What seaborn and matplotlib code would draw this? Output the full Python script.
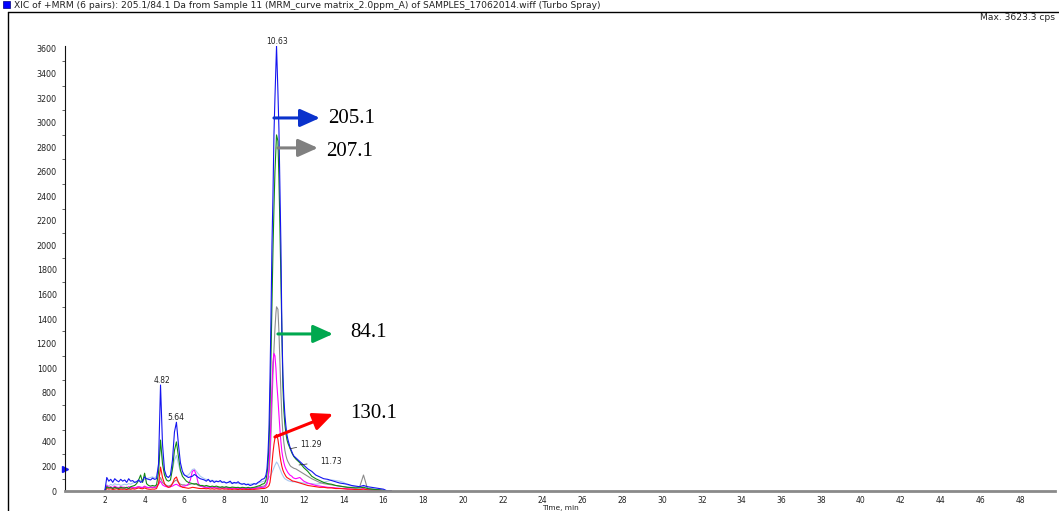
import matplotlib
matplotlib.use("Agg")
import matplotlib.pyplot as plt
import seaborn as sns
import pandas as pd
from matplotlib.lines import Line2D
from matplotlib.patches import Rectangle
from matplotlib.ticker import MultipleLocator

sns.set_theme(style="white")
plt.rcParams['font.family'] = ['DejaVu Sans']

# ---------------- data ----------------
time_min = [
    2.0, 2.1, 2.2, 2.3, 2.4, 2.5, 2.6, 2.7, 2.8, 2.9,
    3.0, 3.1, 3.2, 3.3, 3.4, 3.5, 3.6, 3.7, 3.8, 3.9,
    4.0, 4.1, 4.2, 4.3, 4.4, 4.5, 4.6, 4.7, 4.8, 4.9,
    5.0, 5.1, 5.2, 5.3, 5.4, 5.5, 5.6, 5.7, 5.8, 5.9,
    6.0, 6.1, 6.2, 6.3, 6.4, 6.5, 6.6, 6.7, 6.8, 6.9,
    7.0, 7.1, 7.2, 7.3, 7.4, 7.5, 7.6, 7.7, 7.8, 7.9,
    8.0, 8.1, 8.2, 8.3, 8.4, 8.5, 8.6, 8.7, 8.8, 8.9,
    9.0, 9.1, 9.2, 9.3, 9.4, 9.5, 9.6, 9.7, 9.8, 9.9,
    10.0, 10.05, 10.1, 10.15, 10.2, 10.25, 10.3, 10.35, 10.4, 10.45,
    10.5, 10.55, 10.6, 10.63, 10.7, 10.75, 10.8, 10.85, 10.9, 10.95,
    11.0, 11.05, 11.1, 11.15, 11.2, 11.25, 11.3, 11.35, 11.4, 11.45, 11.5,
    11.6, 11.8, 12.0, 12.2, 12.4, 12.6, 12.8, 13.0, 13.2, 13.4,
    13.6, 13.8, 14.0, 14.2, 14.4, 14.6, 14.8, 15.0, 15.2, 15.4,
    15.6, 15.8, 16.0, 16.2, 16.4,
]

blue_cps = [
    0, 110, 80, 95, 70, 100, 85, 75, 95, 80,
    90, 70, 100, 80, 85, 70, 75, 90, 70, 80,
    115, 100, 95, 90, 105, 95, 100, 220, 863, 380,
    170, 120, 110, 130, 250, 480, 560, 380, 230, 160,
    130, 120, 110, 115, 120, 135, 125, 110, 100, 95,
    90, 80, 95, 75, 85, 70, 80, 75, 85, 70,
    75, 65, 70, 80, 60, 70, 65, 75, 60, 55,
    60, 50, 55, 45, 50, 60, 55, 70, 80, 95,
    100, 110, 130, 180, 300, 500, 900, 1400, 2000, 2400,
    2900, 3200, 3450, 3623, 3250, 2950, 2500, 2000, 1300, 950,
    750, 620, 530, 460, 420, 390, 360, 340, 320, 300, 285,
    270, 240, 210, 180, 160, 130, 115, 100, 95, 85,
    75, 65, 60, 55, 45, 40, 35, 45, 35, 30,
    25, 20, 15, 0, 0,
]

green_cps = [
    0, 35, 25, 30, 20, 30, 25, 20, 30, 25,
    25, 30, 20, 35, 40, 45, 60, 90, 130, 70,
    145, 60, 45, 40, 45, 40, 50, 150, 415, 220,
    130, 90, 80, 90, 180, 330, 400, 280, 170, 120,
    100, 80, 70, 65, 60, 55, 60, 50, 45, 45,
    40, 45, 40, 35, 40, 35, 40, 35, 30, 35,
    30, 35, 30, 28, 32, 30, 28, 30, 25, 30,
    28, 25, 30, 25, 28, 30, 35, 40, 45, 55,
    60, 70, 90, 140, 220, 380, 650, 1100, 1550, 1950,
    2300, 2600, 2800, 2900, 2850, 2550, 2150, 1700, 1200, 850,
    650, 540, 470, 420, 390, 370, 350, 330, 310, 295, 280,
    260, 230, 190, 160, 120, 100, 85, 70, 60, 55,
    45, 40, 35, 30, 28, 25, 25, 30, 20, 15,
    12, 10, 5, 0, 0,
]

red_cps = [
    0, 20, 15, 18, 12, 15, 18, 12, 15, 14,
    15, 12, 16, 14, 18, 15, 20, 25, 20, 18,
    25, 18, 15, 14, 16, 15, 20, 60, 195, 110,
    60, 40, 30, 35, 60, 100, 114, 70, 40, 30,
    28, 25, 22, 25, 30, 28, 25, 22, 20, 20,
    20, 18, 20, 16, 18, 15, 18, 16, 15, 18,
    15, 16, 14, 15, 13, 15, 14, 12, 15, 13,
    14, 12, 13, 12, 14, 13, 15, 16, 18, 20,
    20, 22, 25, 30, 35, 45, 70, 130, 220, 310,
    380, 430, 455, 460, 420, 360, 290, 240, 200, 170,
    150, 135, 120, 110, 105, 100, 95, 90, 85, 80, 80,
    75, 65, 55, 45, 40, 35, 30, 30, 25, 25,
    20, 20, 18, 15, 15, 12, 12, 15, 10, 8,
    6, 5, 3, 0, 0,
]

magenta_cps = [
    0, 45, 30, 35, 25, 40, 30, 28, 35, 30,
    30, 25, 35, 28, 30, 25, 30, 35, 30, 28,
    40, 30, 28, 30, 32, 28, 35, 55, 80, 50,
    40, 35, 30, 35, 40, 50, 55, 45, 35, 40,
    40, 45, 55, 90, 160, 170, 130, 60, 40, 35,
    30, 28, 25, 30, 25, 28, 25, 22, 25, 22,
    22, 25, 20, 22, 20, 24, 20, 22, 18, 20,
    20, 18, 22, 20, 18, 20, 22, 25, 28, 30,
    30, 35, 45, 60, 100, 180, 350, 600, 850, 1050,
    1120, 1100, 1000, 900, 750, 620, 500, 400, 320, 270,
    230, 200, 180, 165, 150, 140, 130, 125, 120, 110, 105,
    100, 110, 80, 65, 55, 45, 40, 35, 30, 28,
    25, 22, 20, 18, 15, 15, 12, 20, 10, 8,
    6, 5, 3, 0, 0,
]

gray_cps = [
    0, 30, 25, 28, 20, 25, 22, 25, 20, 24,
    22, 25, 20, 24, 22, 25, 30, 35, 30, 28,
    35, 30, 28, 30, 28, 30, 35, 60, 110, 70,
    55, 45, 40, 45, 60, 80, 90, 70, 55, 50,
    50, 45, 50, 55, 60, 60, 55, 45, 40, 38,
    35, 32, 35, 30, 32, 30, 32, 28, 30, 28,
    28, 30, 26, 28, 25, 27, 25, 26, 24, 25,
    24, 22, 25, 22, 24, 25, 28, 30, 35, 38,
    40, 45, 55, 70, 100, 160, 280, 450, 700, 950,
    1150, 1320, 1450, 1500, 1480, 1300, 1050, 800, 600, 470,
    390, 330, 290, 260, 240, 225, 210, 200, 195, 190, 185,
    180, 160, 140, 120, 100, 85, 70, 60, 55, 50,
    45, 40, 35, 30, 28, 25, 30, 130, 20, 15,
    10, 8, 5, 0, 0,
]

lightblue_cps = [
    0, 50, 40, 55, 45, 60, 50, 55, 45, 50,
    55, 50, 60, 55, 65, 70, 80, 75, 85, 90,
    95, 100, 105, 110, 115, 105, 120, 200, 380, 260,
    150, 120, 110, 130, 180, 250, 290, 220, 160, 140,
    130, 125, 130, 150, 175, 180, 160, 140, 120, 110,
    100, 95, 90, 85, 88, 80, 82, 78, 75, 72,
    70, 68, 72, 65, 68, 62, 65, 60, 62, 58,
    60, 55, 58, 55, 60, 58, 62, 65, 70, 75,
    80, 82, 85, 90, 100, 110, 120, 135, 150, 170,
    190, 210, 225, 236, 220, 200, 180, 160, 140, 125,
    110, 100, 95, 90, 85, 82, 80, 78, 76, 75, 75,
    75, 70, 65, 60, 60, 55, 60, 70, 80, 90,
    85, 80, 70, 50, 40, 35, 30, 35, 25, 20,
    15, 10, 5, 0, 0,
]

trace_names = ["light blue", "gray", "magenta", "red", "green", "blue"]
trace_values = [lightblue_cps, gray_cps, magenta_cps, red_cps, green_cps, blue_cps]
trace_colors = ["#a8c8f0", "#8c8c8c", "#ff00ff", "#ff1010", "#138a13", "#1414f0"]

peak_labels = ["4.82", "5.64", "10.63", "11.29", "11.73"]
ion_labels = ["205.1", "207.1", "84.1", "130.1"]
y_ticks = list(range(0, 3601, 200))
x_ticks = list(range(2, 49, 2))

# ---------------- figure ----------------
W, H = 1059, 511
df = pd.concat(
    [pd.DataFrame({"time": time_min, "cps": v, "trace": n})
     for n, v in zip(trace_names, trace_values)],
    ignore_index=True,
)

fig = plt.figure(figsize=(W / 100, H / 100), dpi=100)
ax = fig.add_axes([65 / W, 20 / H, 990 / W, 445 / H])

sns.lineplot(data=df, x="time", y="cps", hue="trace", hue_order=trace_names,
             palette=dict(zip(trace_names, trace_colors)), estimator=None,
             sort=False, lw=0.8, legend=False, ax=ax)

ax.set_xlim(0, 49.75)
ax.set_ylim(0, 3624)
ax.set_xticks(x_ticks)
ax.set_yticks(y_ticks)
ax.yaxis.set_minor_locator(MultipleLocator(100))
ax.tick_params(axis="y", which="major", direction="out", length=3, width=0.6,
               labelsize=5.8, colors="#222222", pad=3)
ax.tick_params(axis="x", which="major", direction="out", length=2.5, width=0.6,
               labelsize=5.5, colors="#222222", pad=1)
ax.tick_params(axis="y", which="minor", direction="out", length=2, width=0.5,
               colors="#222222", left=True)
ax.set_xlabel("")
ax.set_ylabel("")
for s in ("top", "right"):
    ax.spines[s].set_visible(False)
ax.spines["left"].set_color("#111111")
ax.spines["left"].set_linewidth(0.8)
ax.spines["bottom"].set_color("#8a8a8a")
ax.spines["bottom"].set_linewidth(2)

# threshold flag on the y axis
ax.plot([0], [180], marker=">", ms=5, color="#1414f0", clip_on=False)

# retention time labels
small = dict(fontsize=5.5, color="#222222", ha="center", va="center")
ax.text(4.87, 900, peak_labels[0], **small)
ax.text(5.58, 595, peak_labels[1], **small)
ax.text(10.65, 3660, peak_labels[2], clip_on=False, **small)
ax.annotate(peak_labels[3], xy=(11.31, 345), xytext=(12.35, 375),
            arrowprops=dict(arrowstyle="-", lw=0.5, color="#222222",
                            shrinkA=7, shrinkB=0), **small)
ax.annotate(peak_labels[4], xy=(11.76, 212), xytext=(13.36, 244),
            arrowprops=dict(arrowstyle="-", lw=0.5, color="#222222",
                            shrinkA=7, shrinkB=0), **small)

# ion arrows
def ion_arrow(x0, y0, x1, y1, color):
    ax.annotate("", xy=(x1, y1), xytext=(x0, y0),
                arrowprops=dict(arrowstyle="-|>,head_length=1.0,head_width=0.45",
                                color=color, lw=2.2, mutation_scale=12,
                                shrinkA=0, shrinkB=0))

serif = dict(fontsize=15, family=["Liberation Serif", "DejaVu Serif"],
             color="black", ha="left", va="center")
ion_arrow(10.5, 3038, 12.81, 3038, "#0a32cc")
ax.text(13.22, 3030, ion_labels[0], **serif)
ion_arrow(10.7, 2794, 12.71, 2794, "#808080")
ax.text(13.12, 2761, ion_labels[1], **serif)
ion_arrow(10.7, 1279, 13.47, 1279, "#00a84f")
ax.text(14.32, 1287, ion_labels[2], **serif)
ion_arrow(10.55, 440, 13.47, 627, "#ff0000")
ax.text(14.32, 635, ion_labels[3], **serif)

# header
fig.patches.append(Rectangle((3 / W, 1 - 8 / H), 7 / W, 7 / H, transform=fig.transFigure,
                             facecolor="#0000ff", edgecolor="#000080", lw=0.5))
fig.text(14 / W, 1 - 5 / H,
         "XIC of +MRM (6 pairs): 205.1/84.1 Da from Sample 11 (MRM_curve matrix_2.0ppm_A) "
         "of SAMPLES_17062014.wiff (Turbo Spray)",
         fontsize=6.6, color="#222222", ha="left", va="center")
fig.text(980 / W, 1 - 18 / H, "Max. 3623.3 cps", fontsize=6.6, color="#222222",
         ha="left", va="center")
fig.text(560 / W, 1 - 508 / H, "Time, min", fontsize=5.3, color="#222222",
         ha="center", va="center")

fig.lines.append(Line2D([8 / W, 1], [1 - 12 / H, 1 - 12 / H], transform=fig.transFigure,
                        color="black", lw=1))
fig.lines.append(Line2D([8 / W, 8 / W], [0, 1 - 12 / H], transform=fig.transFigure,
                        color="black", lw=1))

fig.savefig("out.png", dpi=100)
